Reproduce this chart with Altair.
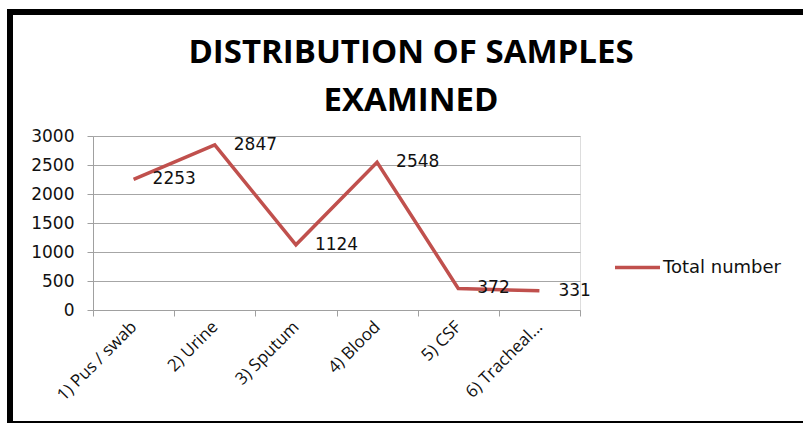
import altair as alt
import pandas as pd

categories = ["1) Pus / swab", "2) Urine", "3) Sputum", "4) Blood", "5) CSF", "6) Tracheal..."]
values = [2253, 2847, 1124, 2548, 372, 331]
series_name = "Total number"
y_ticks = [0, 500, 1000, 1500, 2000, 2500, 3000]
title_lines = ["DISTRIBUTION OF SAMPLES", "EXAMINED"]

df = pd.DataFrame({"category": categories, "value": values, "series": [series_name] * len(values)})

W, H = 487, 174
LEFT, TOP = 93, 136

x_enc = alt.X(
    "category:N",
    sort=categories,
    scale=alt.Scale(type="band", paddingInner=0, paddingOuter=0),
    axis=alt.Axis(
        title=None,
        labelAngle=-45,
        labelAlign="right",
        labelBaseline="middle",
        labelFont="Open Sans",
        labelFontSize=17,
        labelColor="#111111",
        labelPadding=8,
        labelLimit=200,
        tickBand="extent",
        tickSize=6,
        tickColor="#a0a0a0",
        domainColor="#a0a0a0",
        grid=False,
    ),
)
y_enc = alt.Y(
    "value:Q",
    scale=alt.Scale(domain=[0, 3000], nice=False),
    axis=alt.Axis(
        title=None,
        values=y_ticks,
        format="d",
        labelOverlap=False,
        labelFont="DejaVu Sans",
        labelFontSize=17,
        labelColor="#111111",
        labelPadding=13,
        tickSize=6,
        tickColor="#a0a0a0",
        domainColor="#a0a0a0",
        gridColor="#a6a6a6",
        gridWidth=1,
    ),
)

base = alt.Chart(df)

line = base.mark_line(strokeWidth=3.5).encode(
    x=x_enc,
    y=y_enc,
    color=alt.Color(
        "series:N",
        scale=alt.Scale(domain=[series_name], range=["#C0504D"]),
        legend=alt.Legend(
            title=None,
            orient="none",
            legendX=520,
            legendY=107,
            symbolType="stroke",
            symbolSize=2025,
            symbolStrokeWidth=3.5,
            labelFont="DejaVu Sans",
            labelFontSize=18,
            labelColor="#111111",
            labelOffset=1,
            padding=0,
        ),
    ),
)

labels = base.mark_text(
    align="left", baseline="middle", dx=19, font="DejaVu Sans", fontSize=17, color="#111111"
).encode(x=x_enc, y=y_enc, text="value:Q")

border_data = alt.Data(values=[{"k": 1}])
title_mark = alt.Chart(border_data).mark_text(
    text=title_lines,
    font="Open Sans",
    fontSize=33,
    fontWeight="bold",
    color="#000000",
    align="center",
    baseline="alphabetic",
    lineHeight=48,
).encode(x=alt.value(411 - LEFT), y=alt.value(63 - TOP))

top_border = alt.Chart(border_data).mark_rule(color="black", strokeWidth=6).encode(
    x=alt.value(-86), x2=alt.value(803 - LEFT), y=alt.value(12 - TOP)
)
left_border = alt.Chart(border_data).mark_rule(color="black", strokeWidth=6).encode(
    x=alt.value(10 - LEFT), y=alt.value(9 - TOP), y2=alt.value(423 - TOP)
)
bottom_border = alt.Chart(border_data).mark_rule(color="black", strokeWidth=2).encode(
    x=alt.value(7 - LEFT), x2=alt.value(803 - LEFT), y=alt.value(422 - TOP)
)

chart = (
    alt.layer(line, labels, title_mark, top_border, left_border, bottom_border)
    .properties(
        width=W,
        height=H,
        autosize=alt.AutoSizeParams(type="none"),
        padding={"left": LEFT, "top": TOP, "right": 803 - LEFT - W, "bottom": 424 - TOP - H},
    )
    .configure_view(stroke=None)
    .configure(background="white")
)

chart.save("out.html", embed_options={"renderer": "svg", "actions": False})
